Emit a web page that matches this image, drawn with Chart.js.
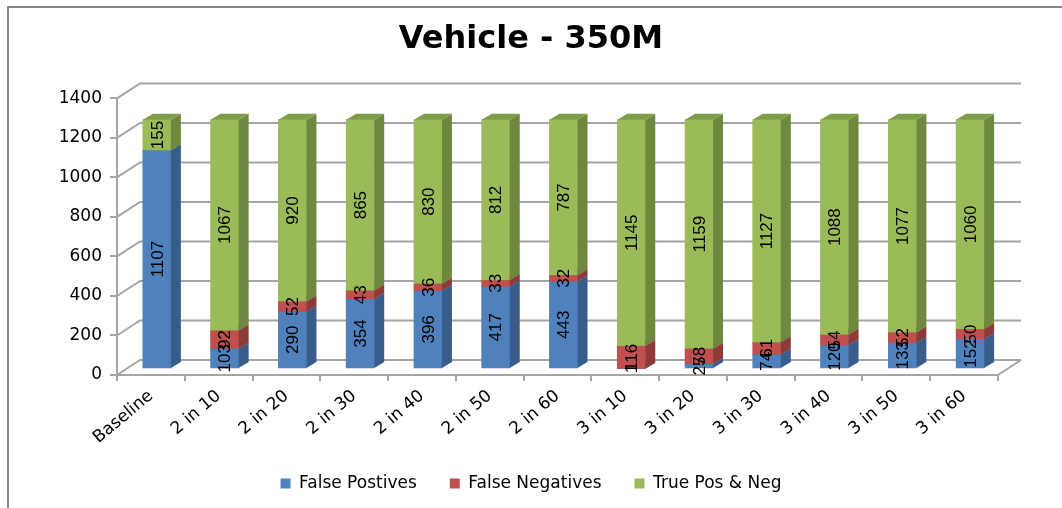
<!DOCTYPE html>
<html>
<head>
<meta charset="utf-8">
<title>Vehicle - 350M</title>
<script src="https://cdn.jsdelivr.net/npm/chart.js@4.4.1/dist/chart.umd.min.js"></script>
<style>
  html, body { margin: 0; padding: 0; background: #fff; }
  #wrap { width: 1062px; height: 508px; }
</style>
</head>
<body>
<div id="wrap"><canvas id="vehicleChart" width="1062" height="508"></canvas></div>
<script>
// Chart data
const categories = ['Baseline', '2 in 10', '2 in 20', '2 in 30', '2 in 40', '2 in 50', '2 in 60',
                    '3 in 10', '3 in 20', '3 in 30', '3 in 40', '3 in 50', '3 in 60'];
const falsePositives = [1107, 103, 290, 354, 396, 417, 443, 1, 25, 74, 120, 133, 152];
const falseNegatives = [0, 92, 52, 43, 36, 33, 32, 116, 78, 61, 54, 52, 50];
const truePosNeg = [155, 1067, 920, 865, 830, 812, 787, 1145, 1159, 1127, 1088, 1077, 1060];
const yTicks = [0, 200, 400, 600, 800, 1000, 1200, 1400];

// 3D look settings
const WALL_DX = 23, WALL_DY = -15;
const BAR_DX = 6, BAR_DY = -6;
const SIDE_DX = 10, SIDE_DY = -6;
const frontColors = ['#4f81bd', '#c0504d', '#9bbb59'];
const sideColors = ['#385d8a', '#8c3b39', '#6f883f'];
const topColors = ['#4676b0', '#a94542', '#7f9d48'];

const threeD = {
  id: 'threeD',
  beforeDraw(chart) {
    const ctx = chart.ctx;
    ctx.save();
    ctx.strokeStyle = '#878787';
    ctx.lineWidth = 2;
    ctx.strokeRect(8, 7, 1080, 520);
    ctx.restore();
  },
  beforeDatasetsDraw(chart) {
    const { ctx, chartArea: a, scales: { y } } = chart;
    ctx.save();
    ctx.strokeStyle = '#a5a5a5';
    ctx.lineWidth = 2;
    yTicks.forEach(v => {
      const py = y.getPixelForValue(v);
      ctx.beginPath();
      ctx.moveTo(a.left, py);
      ctx.lineTo(a.left + WALL_DX, py + WALL_DY);
      ctx.lineTo(a.right + WALL_DX, py + WALL_DY);
      ctx.stroke();
    });
    const p0 = y.getPixelForValue(0);
    ctx.beginPath();
    ctx.moveTo(a.right, p0);
    ctx.lineTo(a.right + WALL_DX, p0 + WALL_DY);
    ctx.stroke();
    ctx.restore();
    // bars sit a bit back inside the floor
    ctx.save();
    ctx.translate(BAR_DX, BAR_DY);
  },
  afterDatasetsDraw(chart) {
    const ctx = chart.ctx;
    const metas = [0, 1, 2].map(i => chart.getDatasetMeta(i));
    categories.forEach((c, j) => {
      metas.forEach((meta, i) => {
        const el = meta.data[j];
        const top = Math.min(el.y, el.base), bottom = Math.max(el.y, el.base);
        if (bottom - top < 0.01) return;
        const l = el.x - el.width / 2, r = el.x + el.width / 2;
        ctx.fillStyle = frontColors[i];
        ctx.fillRect(l, top, el.width, bottom - top);
        ctx.fillStyle = sideColors[i];
        ctx.beginPath();
        ctx.moveTo(r, top);
        ctx.lineTo(r + SIDE_DX, top + SIDE_DY);
        ctx.lineTo(r + SIDE_DX, bottom + SIDE_DY);
        ctx.lineTo(r, bottom);
        ctx.closePath();
        ctx.fill();
        ctx.fillStyle = topColors[i];
        ctx.beginPath();
        ctx.moveTo(l, top);
        ctx.lineTo(l + SIDE_DX, top + SIDE_DY);
        ctx.lineTo(r + SIDE_DX, top + SIDE_DY);
        ctx.lineTo(r, top);
        ctx.closePath();
        ctx.fill();
      });
    });
    // value labels, rotated
    ctx.fillStyle = '#000';
    ctx.font = '17px "Liberation Sans"';
    ctx.textAlign = 'center';
    ctx.textBaseline = 'middle';
    metas.forEach((meta, i) => {
      const values = chart.data.datasets[i].data;
      meta.data.forEach((el, j) => {
        if (!values[j]) return;
        ctx.save();
        ctx.translate(el.x + 1, (el.y + el.base) / 2);
        ctx.rotate(-Math.PI / 2);
        ctx.fillText(String(values[j]), 0, 0);
        ctx.restore();
      });
    });
    ctx.restore();
  }
};

const ctx = document.getElementById('vehicleChart').getContext('2d');
new Chart(ctx, {
  type: 'bar',
  data: {
    labels: categories,
    datasets: [
      { label: 'False Postives', data: falsePositives, backgroundColor: frontColors[0] },
      { label: 'False Negatives', data: falseNegatives, backgroundColor: frontColors[1] },
      { label: 'True Pos & Neg', data: truePosNeg, backgroundColor: frontColors[2] }
    ]
  },
  options: {
    responsive: false,
    animation: false,
    layout: { padding: { left: 0, right: 0, top: 0, bottom: 6 } },
    datasets: { bar: { barThickness: 28 } },
    scales: {
      x: {
        stacked: true,
        grid: { display: true, drawOnChartArea: false, tickLength: 6, color: '#a5a5a5', lineWidth: 2, offset: true },
        border: { color: '#a5a5a5', width: 2 },
        ticks: { minRotation: 40, maxRotation: 40, padding: 5, color: '#000', font: { family: 'DejaVu Sans', size: 17 } },
        afterFit: s => { s.height = 67; }
      },
      y: {
        stacked: true,
        min: 0,
        max: 1400,
        ticks: {
          stepSize: 200, color: '#000', padding: 8,
          font: { family: 'DejaVu Sans', size: 17 },
          callback: v => String(v)
        },
        grid: { drawOnChartArea: false, tickLength: 7, color: '#a5a5a5', lineWidth: 2 },
        border: { color: '#a5a5a5', width: 2 },
        afterFit: s => { s.width = 117; }
      },
      // empty right-hand space for the 3D back wall
      yRight: {
        position: 'right',
        display: true,
        grid: { display: false },
        border: { display: false },
        ticks: { display: false },
        afterFit: s => { s.width = 64; }
      }
    },
    plugins: {
      title: {
        display: true,
        text: 'Vehicle - 350M',
        color: '#000',
        font: { family: 'DejaVu Sans', size: 32, weight: 'bold' },
        padding: { top: 20, bottom: 40 }
      },
      legend: {
        position: 'bottom',
        labels: { boxWidth: 10, boxHeight: 10, color: '#000', font: { family: 'DejaVu Sans', size: 17 }, padding: 33 }
      },
      tooltip: { enabled: false }
    }
  },
  plugins: [threeD]
});
</script>
</body>
</html>
